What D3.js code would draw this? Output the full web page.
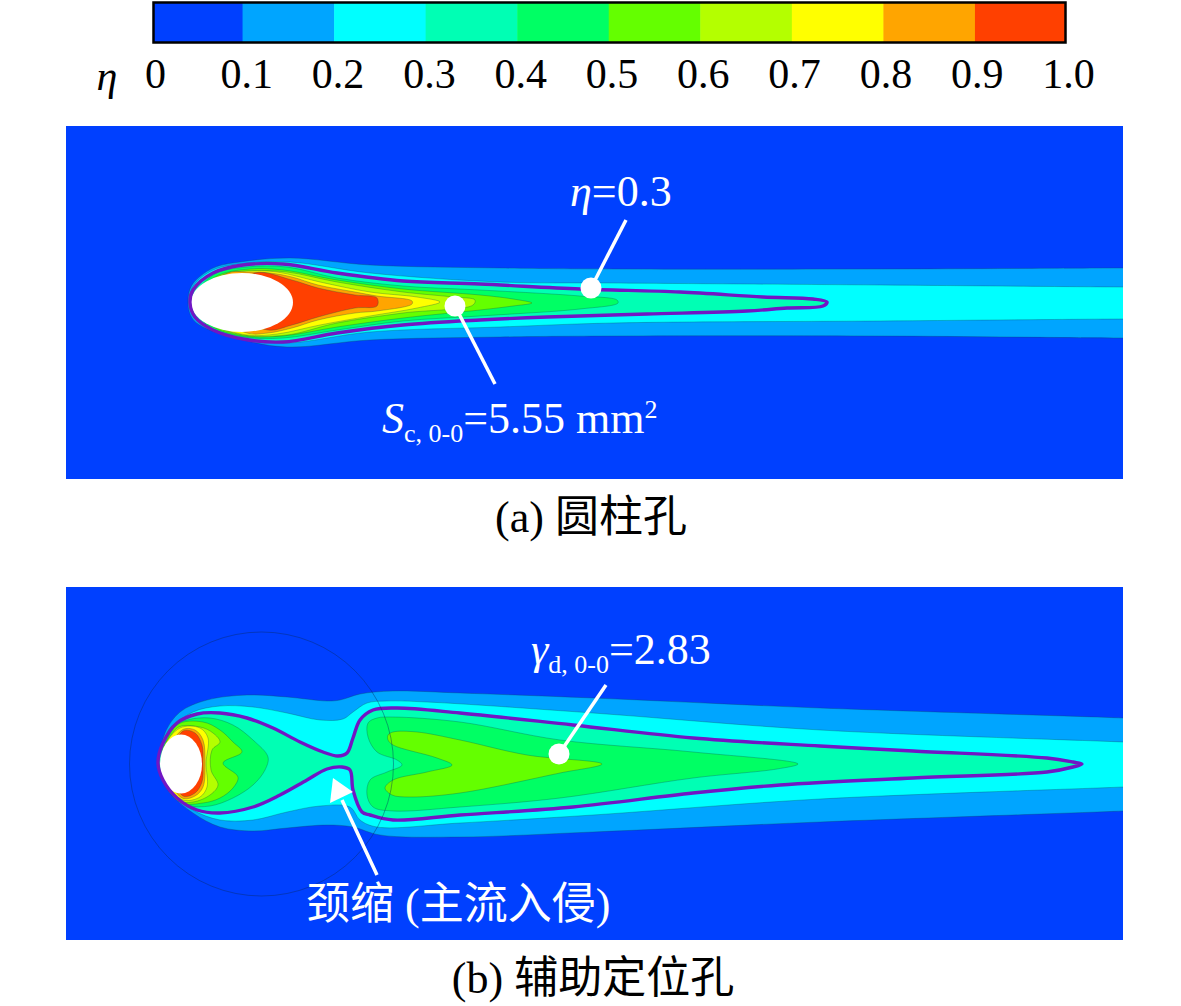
<!DOCTYPE html>
<html>
<head>
<meta charset="utf-8">
<script src="https://cdn.jsdelivr.net/npm/d3@7"></script>
<style>
  body { margin: 0; background: #fff; }
  svg { display: block; }
  text { font-family: "Liberation Serif", "Noto Sans CJK SC", serif; }
  .cb-axis text { font-size: 42px; fill: #000; }
</style>
</head>
<body>
<div id="chart"></div>
<script>
// Colour levels of the film cooling effectiveness
const levels = [0, 0.1, 0.2, 0.3, 0.4, 0.5, 0.6, 0.7, 0.8, 0.9];
const levelColors = ["#0040ff", "#00a5ff", "#00ffff", "#00ffb4", "#00ff64", "#64ff00", "#b4ff00", "#ffff00", "#ffa500", "#ff4000"];
const tickValues = [0, 0.1, 0.2, 0.3, 0.4, 0.5, 0.6, 0.7, 0.8, 0.9, 1.0];
const tickLabels = ["0", "0.1", "0.2", "0.3", "0.4", "0.5", "0.6", "0.7", "0.8", "0.9", "1.0"];

// Contours, [streamwise, spanwise] in plate grid units
// (a) cylindrical hole
const a01 = [[122,0],[126,18],[147,35],[174,41],[224,45],[304,38],[434,35],[547,34],[814,34],[1057,35],[1100,35],[1100,-35],[1057,-35],[814,-33],[547,-33],[434,-34],[304,-37],[221,-44],[177,-37],[137,-24],[126,-15]];
const a02 = [[123,0],[128,18],[147,33],[181,40],[224,41],[304,30],[434,21],[547,20],[814,18],[1057,16],[1100,16],[1100,-16],[1057,-16],[814,-18],[547,-20],[434,-24],[304,-29],[221,-40],[177,-36],[147,-28],[129,-16]];
const a03 = [[124,0],[127,13],[147,30],[177,38],[217,39],[271,30],[337,22],[414,19],[514,14],[614,11],[697,6],[747,4],[761,1],[757,-3],[721,-5],[681,-8],[581,-11],[481,-14],[414,-17],[337,-22],[271,-30],[217,-39],[177,-36],[147,-27],[129,-14]];
const a04 = [[126,0],[147,28],[181,36],[221,36],[271,25],[337,17],[414,13],[514,7],[551,3],[552,0],[514,-6],[414,-13],[337,-18],[271,-27],[217,-35],[177,-34],[144,-24]];
const a05 = [[127,0],[149,26],[184,34],[217,33],[271,23],[337,14],[414,8],[447,4],[466,0],[447,-3],[414,-7],[337,-15],[271,-24],[217,-33],[177,-33],[146,-23]];
const a06 = [[128,0],[154,27],[189,32],[221,31],[271,21],[337,11],[387,6],[409,3],[407,-2],[337,-10],[271,-20],[221,-32],[177,-32],[148,-22]];
const a07 = [[129,0],[159,28],[181,32],[211,31],[254,21],[304,11],[351,6],[374,1],[351,-5],[304,-13],[254,-22],[211,-31],[181,-32],[150,-22]];
const a08 = [[130,0],[162,30],[181,31],[204,30],[226,26],[252,18],[289,11],[311,7],[346,2],[346,-1],[311,-8],[289,-10],[252,-17],[226,-25],[202,-30],[181,-30]];
const a09 = [[170,10],[189,30],[226,23],[252,15],[289,8],[311,5],[311,-3],[289,-5],[252,-14],[226,-22],[202,-27],[170,-10]];
const aHole = { x: 176, y: 0.5, rx: 51, ry: 29.5 };

// (b) auxiliary locating hole
const b01 = [[94,4],[99,31],[114,52],[141,64],[181,69],[221,67],[261,63],[274,64],[294,70],[327,73],[394,71],[527,66],[754,56],[1057,46],[1100,44],[1100,-45],[1057,-47],[754,-58],[527,-68],[394,-73],[314,-71],[287,-63],[261,-61],[221,-64],[187,-67],[154,-63],[127,-49],[104,-29],[96,-13]];
const b02 = [[97,14],[107,37],[127,52],[154,58],[187,57],[221,51],[254,44],[277,45],[287,52],[301,61],[321,63],[361,62],[527,51],[754,34],[1057,22],[1100,20],[1100,-21],[1057,-23],[754,-35],[527,-51],[394,-59],[311,-63],[294,-56],[284,-43],[254,-42],[221,-48],[187,-56],[154,-56],[127,-46],[107,-29],[97,-13]];
const b03 = [[92,1],[97,21],[111,41],[131,50],[154,51],[181,46],[207,36],[234,22],[257,12],[272,8],[281,11],[287,26],[294,44],[307,54],[331,56],[394,51],[507,39],[627,26],[754,18],[847,13],[981,6],[1007,2],[1016,0],[1007,-3],[981,-8],[847,-14],[714,-21],[627,-29],[507,-43],[394,-51],[327,-56],[304,-51],[296,-48],[287,-26],[284,-6],[276,-3],[261,-5],[241,-16],[214,-31],[187,-43],[154,-49],[131,-46],[111,-34],[97,-16]];
const b04Left = [[95,0],[104,36],[121,44],[144,46],[167,39],[187,24],[202,7],[199,-6],[187,-21],[167,-34],[144,-42],[121,-41],[104,-29]];
const b04Right = [[302,41],[311,46],[327,47],[394,42],[494,24],[627,12],[732,0],[711,-5],[627,-14],[494,-34],[394,-43],[327,-47],[307,-43],[301,-31],[304,-16],[321,-8],[336,-1],[331,4],[311,12],[302,27]];
const b05Left = [[96,0],[111,39],[137,42],[154,34],[167,22],[176,12],[157,1],[172,-13],[167,-24],[154,-34],[137,-39],[114,-38]];
const b05Right = [[322,29],[327,32],[351,32],[394,24],[461,9],[536,0],[494,-9],[394,-29],[344,-33],[326,-31],[319,-24],[327,-16],[361,-8],[386,-1],[371,6],[327,19],[322,24]];
const b06 = [[97,0],[111,36],[134,37],[147,31],[154,22],[146,14],[145,-6],[152,-21],[144,-31],[127,-38],[111,-36]];
const b07 = [[97,14],[114,36],[134,36],[142,26],[140,1],[141,-23],[134,-33],[117,-36],[101,-19]];
const b08 = [[99,0],[116,34],[129,34],[137,24],[139,1],[137,-23],[129,-32],[116,-34]];
const b09 = [[105,0],[117,33],[129,31],[136,19],[137,1],[136,-18],[129,-29],[117,-32]];
const bHole = { x: 115, y: 0, rx: 21, ry: 29.5 };

const width = 1181, height = 1006;
const plate = { left: 66, width: 1057, height: 353 };
const purple = "#7116c4";

const svg = d3.select("#chart").append("svg")
  .attr("width", width)
  .attr("height", height);

// Colour bar
const barX = d3.scaleLinear().domain([0, 1]).range([151, 1066.5]);
svg.selectAll(".cb-cell")
  .data(levels)
  .join("rect")
  .attr("class", "cb-cell")
  .attr("x", d => Math.max(barX(d), 153))
  .attr("y", 3)
  .attr("width", d => Math.min(barX(d + 0.1), 1065) - Math.max(barX(d), 153) + 0.5)
  .attr("height", 39)
  .attr("fill", (d, i) => levelColors[i]);
svg.append("rect")
  .attr("x", 153.5).attr("y", 2.5)
  .attr("width", 912).attr("height", 40)
  .attr("fill", "none")
  .attr("stroke", "#000")
  .attr("stroke-width", 2.5);

const labelX = d3.scaleLinear().domain([0, 1]).range([155, 1068]);
const cbAxis = svg.append("g")
  .attr("class", "cb-axis")
  .attr("transform", "translate(0, 48)")
  .call(d3.axisBottom(labelX)
    .tickValues(tickValues)
    .tickSize(0)
    .tickPadding(10)
    .tickFormat((d, i) => tickLabels[i]));
cbAxis.select(".domain").remove();
cbAxis.selectAll("text").attr("font-family", null);

svg.append("text")
  .attr("x", 107).attr("y", 90)
  .attr("text-anchor", "middle")
  .attr("font-style", "italic")
  .attr("font-size", 42)
  .text("η");

// Plates
const xScale = d3.scaleLinear().domain([0, 1057]).range([0, plate.width]);
const yScale = d3.scaleLinear().domain([-176, 177]).range([plate.height, 0]);
const contour = d3.line()
  .x(d => xScale(d[0]))
  .y(d => yScale(d[1]))
  .curve(d3.curveCatmullRomClosed.alpha(0.5));

function drawPlate(id, top, fills, isoline, hole) {
  const g = svg.append("g").attr("transform", `translate(${plate.left}, ${top})`);
  const clipId = "clip-" + id;
  g.append("clipPath").attr("id", clipId)
    .append("rect").attr("width", plate.width).attr("height", plate.height);
  const inner = g.append("g").attr("clip-path", `url(#${clipId})`);

  inner.append("rect")
    .attr("width", plate.width)
    .attr("height", plate.height)
    .attr("fill", levelColors[0]);

  inner.selectAll(".band")
    .data(fills)
    .join("path")
    .attr("class", "band")
    .attr("d", d => contour(d.pts))
    .attr("fill", d => levelColors[levels.indexOf(d.level)])
    .attr("stroke", "#0a4a4a")
    .attr("stroke-opacity", 0.5)
    .attr("stroke-width", 0.6);

  inner.append("ellipse")
    .attr("cx", xScale(hole.x))
    .attr("cy", yScale(hole.y))
    .attr("rx", xScale(hole.rx) - xScale(0))
    .attr("ry", yScale(0) - yScale(hole.ry))
    .attr("fill", "#fff");

  inner.append("path")
    .attr("d", contour(isoline))
    .attr("fill", "none")
    .attr("stroke", purple)
    .attr("stroke-width", 3.4);

  return { g, inner };
}

const plateA = drawPlate("a", 126, [
  { level: 0.1, pts: a01 }, { level: 0.2, pts: a02 }, { level: 0.3, pts: a03 },
  { level: 0.4, pts: a04 }, { level: 0.5, pts: a05 }, { level: 0.6, pts: a06 },
  { level: 0.7, pts: a07 }, { level: 0.8, pts: a08 }, { level: 0.9, pts: a09 }
], a03, aHole);

const plateB = drawPlate("b", 587, [
  { level: 0.1, pts: b01 }, { level: 0.2, pts: b02 }, { level: 0.3, pts: b03 },
  { level: 0.4, pts: b04Left }, { level: 0.4, pts: b04Right },
  { level: 0.5, pts: b05Left }, { level: 0.5, pts: b05Right },
  { level: 0.6, pts: b06 }, { level: 0.7, pts: b07 },
  { level: 0.8, pts: b08 }, { level: 0.9, pts: b09 }
], b03, bHole);

// Thin circle marking the near-hole zone in (b)
plateB.inner.append("circle")
  .attr("cx", xScale(195.5))
  .attr("cy", yScale(0))
  .attr("r", 132)
  .attr("fill", "none")
  .attr("stroke", "#0a2a60")
  .attr("stroke-opacity", 0.6)
  .attr("stroke-width", 0.7);

// Annotation leaders
function leader(x1, y1, x2, y2) {
  svg.append("line")
    .attr("x1", x1).attr("y1", y1).attr("x2", x2).attr("y2", y2)
    .attr("stroke", "#fff").attr("stroke-width", 3.5);
}
function dot(x, y) {
  svg.append("circle").attr("cx", x).attr("cy", y).attr("r", 10.5).attr("fill", "#fff");
}
leader(591, 288, 626, 220); dot(591, 288);
leader(455, 306, 495, 384); dot(455, 306);
leader(559, 754, 606, 685); dot(559, 754);
leader(342, 800, 377, 875);
svg.append("path")
  .attr("d", d3.line()([[333, 778], [353, 792], [330, 803]]) + "Z")
  .attr("fill", "#fff");

// Labels
function label(x, y, parts, fill, anchor) {
  const t = svg.append("text")
    .attr("x", x).attr("y", y)
    .attr("fill", fill)
    .attr("text-anchor", anchor || "start")
    .attr("font-size", 44);
  parts.forEach(p => {
    const s = t.append("tspan").text(p.text);
    if (p.italic) s.attr("font-style", "italic");
    if (p.size) s.attr("font-size", p.size);
    if (p.dy) s.attr("dy", p.dy);
  });
}
label(570, 206, [{ text: "η", italic: true }, { text: "=0.3" }], "#fff");
label(382, 433, [
  { text: "S", italic: true },
  { text: "c, 0-0", size: 26, dy: 9 },
  { text: "=5.55 mm", dy: -9 },
  { text: "2", size: 26, dy: -15 }
], "#fff");
label(531, 664, [
  { text: "γ", italic: true },
  { text: "d, 0-0", size: 26, dy: 9 },
  { text: "=2.83", dy: -9 }
], "#fff");
label(306, 919, [{ text: "颈缩 (主流入侵)" }], "#fff");
label(591, 532, [{ text: "(a) 圆柱孔" }], "#000", "middle");
label(593, 993, [{ text: "(b) 辅助定位孔" }], "#000", "middle");
</script>
</body>
</html>
